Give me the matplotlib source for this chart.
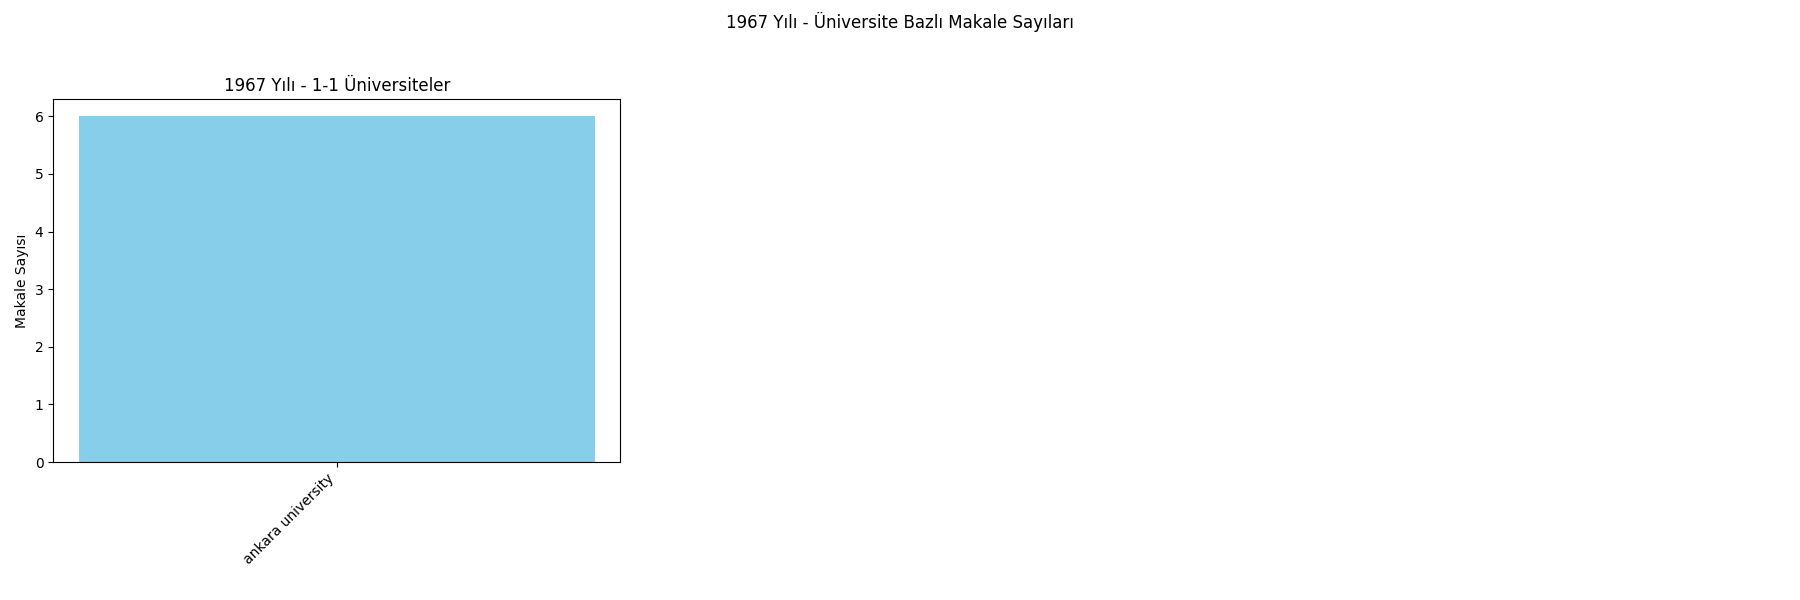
import matplotlib.pyplot as plt

year = 1967
universities = ["ankara university"]
counts = [6]

fig, axes = plt.subplots(1, 3, figsize=(18, 6))
fig.suptitle(f"{year} Yılı - Üniversite Bazlı Makale Sayıları")

ax = axes[0]
ax.bar(universities, counts, color="skyblue")
ax.set_title(f"{year} Yılı - 1-1 Üniversiteler")
ax.set_ylabel("Makale Sayısı")
ax.set_xticks(range(len(universities)))
ax.set_xticklabels(universities, rotation=45, ha="right")

axes[1].axis("off")
axes[2].axis("off")

plt.tight_layout()
plt.subplots_adjust(top=0.835, bottom=0.23)
plt.savefig("out.png")
